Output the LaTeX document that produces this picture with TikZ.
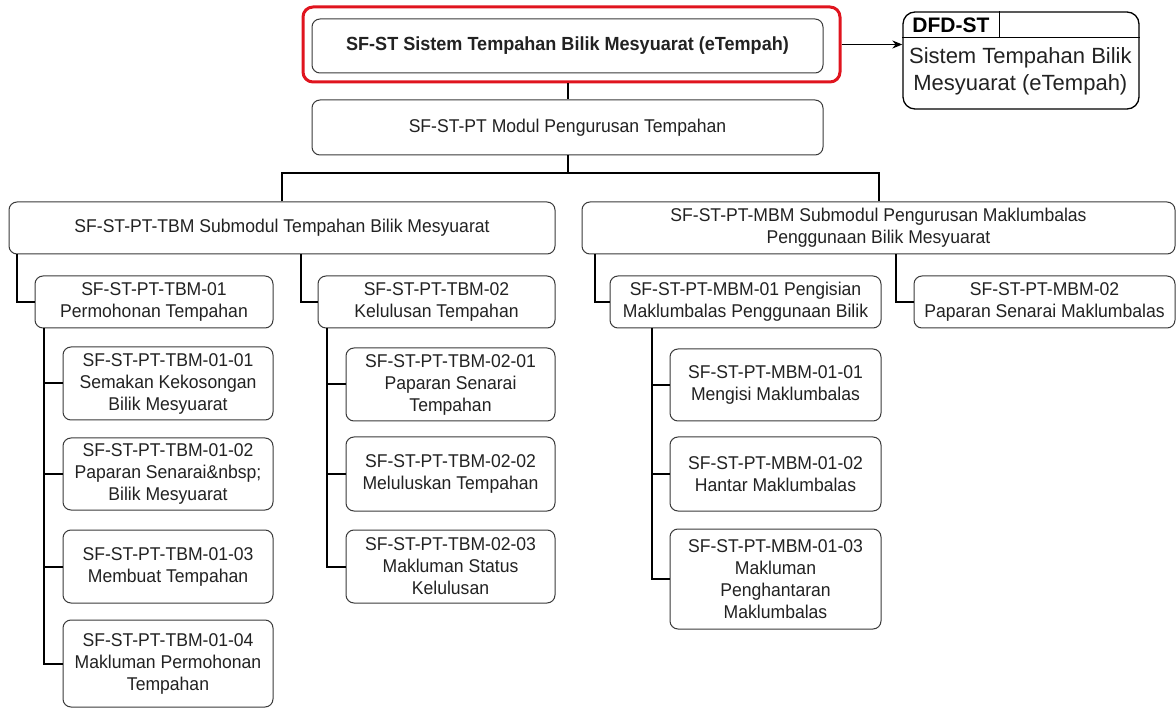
\documentclass[tikz,border=0pt]{standalone}
\usepackage{fontspec}
\setmainfont{Liberation Sans}
\newfontfamily\boxfont{Liberation Sans}[FakeStretch=0.95]
\usetikzlibrary{arrows.meta,calc}
\definecolor{bd}{HTML}{3A3A3A}
\definecolor{tx}{HTML}{222222}
\definecolor{hred}{HTML}{E0141E}
\tikzset{
  box/.style={draw=bd, line width=1pt, rounded corners=8pt, fill=white, inner sep=0pt,
    align=center, text=tx, font=\boxfont\fontsize{18.5}{22}\selectfont},
  conn/.style={draw=black, line width=2pt},
}
\newcommand\mkbox[6]{\node[box, minimum width={#3-#2}, minimum height={#5-#4}] (#1) at ({(#2+#3)/2},{(#4+#5)/2}) {#6};}
\begin{document}
\begin{tikzpicture}[x=1pt,y=-1pt]
\useasboundingbox (0,0) rectangle (1176,708);

% highlight and top boxes
\node[draw=hred, line width=3pt, rounded corners=10pt, minimum width=537, minimum height=75, inner sep=0pt] (hl) at (571.5,44.5) {};
\mkbox{main}{312}{823}{19}{73}{\fontsize{19}{22}\selectfont\bfseries SF-ST Sistem Tempahan Bilik Mesyuarat (eTempah)}
\mkbox{module}{312}{823}{100}{155}{SF-ST-PT Modul Pengurusan Tempahan}

% DFD box
\node[draw=black, line width=1.3pt, rounded corners=12pt, minimum width=236, minimum height=97, inner sep=0pt] (dfd) at (1021,60.5) {};
\draw[line width=1.3pt] ($(dfd.north west)+(0,26)$) -- ($(dfd.north east)+(0,26)$);
\draw[line width=1.3pt] ($(dfd.north west)+(97,0)$) -- ($(dfd.north west)+(97,26)$);
\node[font=\fontsize{21}{24}\selectfont\bfseries, text=black, inner sep=0pt] (dfdh) at ($(dfd.north west)+(48.5,13.5)$) {DFD-ST};
\node[font=\fontsize{22}{27}\selectfont, text=tx, align=center, inner sep=0pt] (dfdt) at ($(dfd.north west)+(118,60)$) {Sistem Tempahan Bilik\\Mesyuarat (eTempah)};

% submodules
\mkbox{tbm}{9}{555}{202}{254}{SF-ST-PT-TBM Submodul Tempahan Bilik Mesyuarat}
\mkbox{mbm}{582}{1175}{202}{254}{SF-ST-PT-MBM Submodul Pengurusan Maklumbalas\\Penggunaan Bilik Mesyuarat}

\mkbox{tbm01}{35}{273}{276}{328}{SF-ST-PT-TBM-01\\Permohonan Tempahan}
\mkbox{tbm02}{318}{555}{276}{328}{SF-ST-PT-TBM-02\\Kelulusan Tempahan}
\mkbox{mbm01}{610}{881}{276}{328}{SF-ST-PT-MBM-01 Pengisian\\Maklumbalas Penggunaan Bilik}
\mkbox{mbm02}{914}{1175}{276}{328}{SF-ST-PT-MBM-02\\Paparan Senarai Maklumbalas}

\mkbox{t0101}{63}{273}{347}{420}{SF-ST-PT-TBM-01-01\\Semakan Kekosongan\\Bilik Mesyuarat}
\mkbox{t0102}{63}{273}{438}{510}{SF-ST-PT-TBM-01-02\\Paparan Senarai\&nbsp;\\Bilik Mesyuarat}
\mkbox{t0103}{63}{273}{530}{603}{SF-ST-PT-TBM-01-03\\Membuat Tempahan}
\mkbox{t0104}{63}{273}{620}{707}{SF-ST-PT-TBM-01-04\\Makluman Permohonan\\Tempahan}

\mkbox{t0201}{346}{555}{348}{421}{SF-ST-PT-TBM-02-01\\Paparan Senarai\\Tempahan}
\mkbox{t0202}{346}{555}{437}{511}{SF-ST-PT-TBM-02-02\\Meluluskan Tempahan}
\mkbox{t0203}{346}{555}{530}{603}{SF-ST-PT-TBM-02-03\\Makluman Status\\Kelulusan}

\mkbox{m0101}{670}{881}{349}{421}{SF-ST-PT-MBM-01-01\\Mengisi Maklumbalas}
\mkbox{m0102}{670}{881}{437}{511}{SF-ST-PT-MBM-01-02\\Hantar Maklumbalas}
\mkbox{m0103}{670}{881}{529}{629}{SF-ST-PT-MBM-01-03\\Makluman\\Penghantaran\\Maklumbalas}

% connectors
\draw[line width=1.5pt, -{Stealth[length=10pt,width=8pt]}] (hl.east) -- (hl.east -| dfd.west);
\draw[conn] (hl.south -| main.south) -- (module.north);
\coordinate (j) at ($(module.south)+(0,18)$);
\draw[conn] (module.south) -- (j);
\draw[conn] (tbm.north) |- (j) -| (mbm.north);

\draw[conn] ([xshift=8pt]tbm.south west) |- (tbm01.west);
\draw[conn] ($(tbm02.west |- tbm.south)+(-17,0)$) |- (tbm02.west);
\draw[conn] ([xshift=13pt]mbm.south west) |- (mbm01.west);
\draw[conn] ($(mbm02.west |- mbm.south)+(-18,0)$) |- (mbm02.west);

\foreach \c in {t0101,t0102,t0103,t0104}
  \draw[conn] ([xshift=9pt]tbm01.south west) |- (\c.west);
\foreach \c in {t0201,t0202,t0203}
  \draw[conn] ([xshift=9pt]tbm02.south west) |- (\c.west);
\foreach \c in {m0101,m0102,m0103}
  \draw[conn] ([xshift=42pt]mbm01.south west) |- (\c.west);
\end{tikzpicture}
\end{document}
